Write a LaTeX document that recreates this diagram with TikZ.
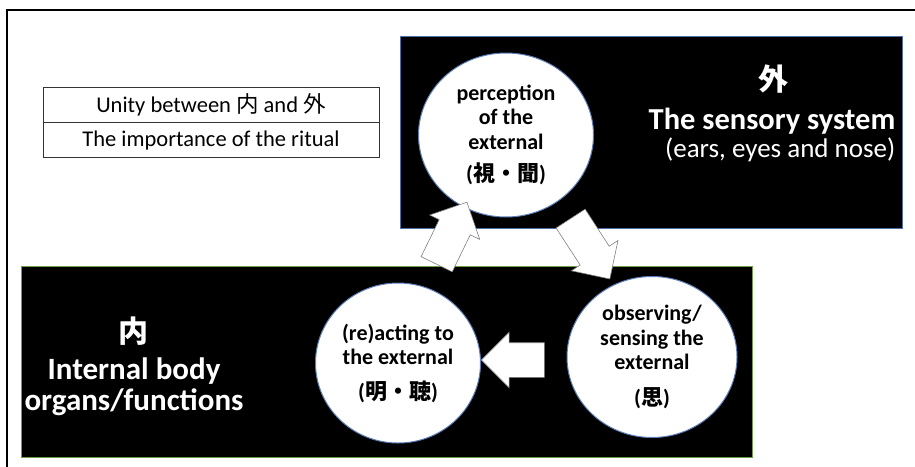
\documentclass[tikz,border=0pt]{standalone}
\usepackage{fontspec}
\setmainfont{Carlito}
\newfontfamily\cjk{Noto Sans CJK JP}
\usetikzlibrary{positioning,shapes.geometric,shapes.arrows}

\definecolor{rimblue}{HTML}{5B7DB8}
\definecolor{boxblue}{HTML}{4F6FA8}
\definecolor{boxgreen}{HTML}{6E9E4A}

\tikzset{
  realm/.style={rectangle, fill=black, line width=0.8pt, inner sep=0pt},
  stage/.style={ellipse, fill=white, draw=rimblue, line width=1pt, inner sep=0pt,
    align=center, font=\bfseries\fontsize{22}{24.5}\selectfont},
  fatarrow/.style={single arrow, fill=white, draw=gray, line width=0.6pt,
    inner xsep=0pt, inner ysep=17pt, single arrow head extend=10.5pt,
    single arrow tip angle=90},
  cell/.style={draw=black!80, line width=0.6pt, minimum width=336pt, minimum height=35pt,
    inner sep=0pt, font=\fontsize{22.5}{26}\selectfont}
}

\begin{document}
\begin{tikzpicture}[x=1pt, y=-1pt]
  \useasboundingbox (0,0) rectangle (915,466);
  \draw[line width=1.2pt] (7,10) rectangle (925,475);

  % legend
  \node[cell] (unity) at (211,104.5) {Unity between {\cjk 内} and {\cjk 外}};
  \node[cell, below=0pt of unity] (ritual) {The importance of the ritual};

  % the two realms
  \node[realm, draw=boxblue, minimum width=502pt, minimum height=192pt] (outer) at (651,132) {};
  \node[realm, draw=boxgreen, minimum width=731pt, minimum height=191pt] (inner) at (386.5,361.5) {};

  \node[text=white, font=\cjk\bfseries\fontsize{30}{32}\selectfont] (outchar) at (773,79) {外};
  \node[text=white, align=right] (outtitle) at (772,135)
    {{\bfseries\fontsize{30.5}{34}\selectfont The sensory system}\\[2pt]
     {\fontsize{27}{33}\selectfont (ears, eyes and nose)}};

  \node[text=white, font=\bfseries\fontsize{31}{31}\selectfont, align=center] (intitle) at (134,366)
    {{\cjk\fontsize{30}{30}\selectfont 内}\\[6pt] Internal body\\organs/functions};

  % the three stages
  \node[stage, minimum width=175pt, minimum height=164pt] (percept) at (506,135)
    {perception\\of the\\external\\[8pt]({\cjk 視・聞})};
  \node[stage, minimum width=165pt, minimum height=160pt] (react) at (398,363)
    {(re)acting to\\the external\\[10pt]({\cjk 明・聴})};
  \node[stage, minimum width=170pt, minimum height=161pt] (observe) at (652,357)
    {observing/\\sensing the\\external\\[11pt]({\cjk 思})};

  % cycle
  \node[fatarrow, minimum height=69pt, rotate=64] (uparrow) at (448,241) {};
  \node[fatarrow, minimum height=72pt, rotate=-57] (downarrow) at (585.5,241.5) {};
  \node[fatarrow, minimum height=63pt, rotate=180] (backarrow) at (521.5,360) {};
\end{tikzpicture}
\end{document}
